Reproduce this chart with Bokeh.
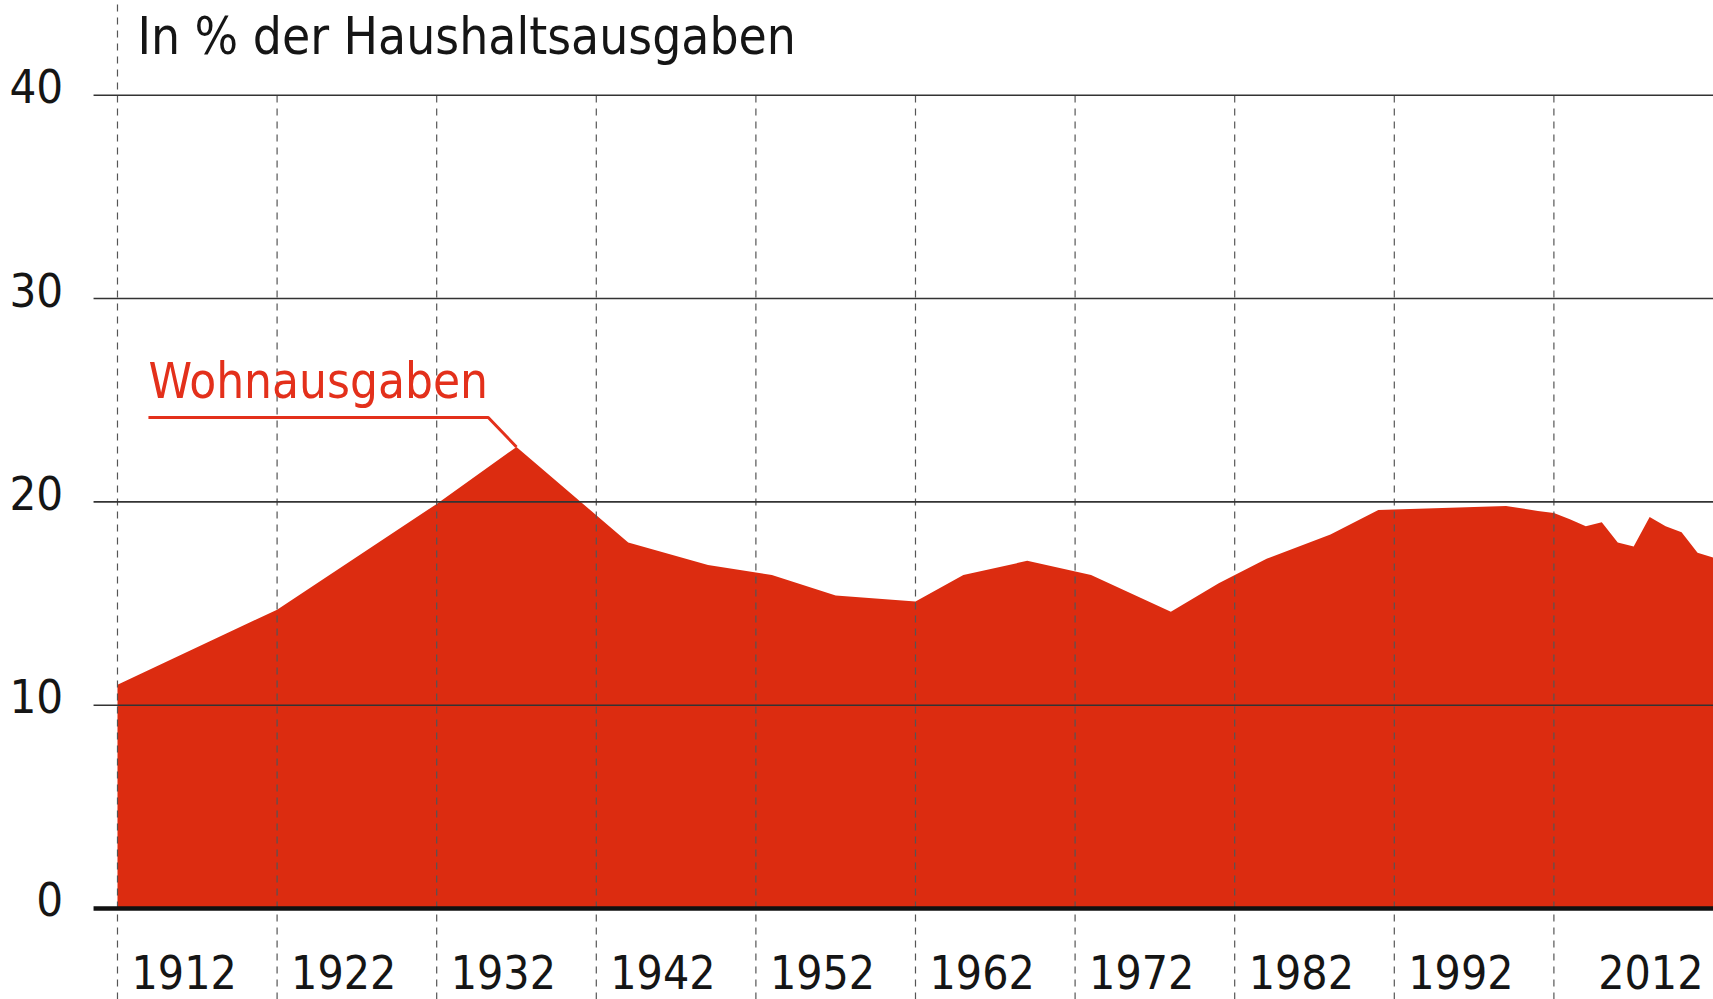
from bokeh.plotting import figure
from bokeh.models import Range1d
from bokeh.core.properties import value
from bokeh.embed import file_html
from bokeh.resources import INLINE

# ---- data ----
years = [1912, 1922, 1932, 1937, 1944, 1949, 1953, 1957, 1962, 1965, 1969, 1973,
         1978, 1981, 1984, 1988, 1991, 1999, 2001, 2002, 2003, 2004, 2005, 2006,
         2007, 2008, 2009, 2010, 2011, 2012]
wohnausgaben = [11.0, 14.7, 19.9, 22.7, 18.0, 16.9, 16.4, 15.4, 15.1, 16.4, 17.1, 16.4,
                14.6, 16.0, 17.2, 18.4, 19.6, 19.8, 19.55, 19.45, 19.15, 18.8, 19.0, 18.0,
                17.8, 19.25, 18.8, 18.5, 17.5, 17.25]

y_ticks = [0, 10, 20, 30, 40]
y_labels = ["0", "10", "20", "30", "40"]
decade_lines = [1912, 1922, 1932, 1942, 1952, 1962, 1972, 1982, 1992, 2002]
x_labels = ["1912", "1922", "1932", "1942", "1952", "1962", "1972", "1982", "1992", "2012"]
x_label_pos = [1912, 1922, 1932, 1942, 1952, 1962, 1972, 1982, 1992, 2003.9]

title_text = "In % der Haushaltsausgaben"
series_name = "Wohnausgaben"

RED_FILL = "#dc2c10"
RED_TEXT = "#e3301b"
FONT = value("'DejaVu Sans Condensed', sans-serif")

X0, X1 = 1904.67, 2012.0
Y0, Y1 = -4.476, 44.66

p = figure(width=1713, height=999, x_range=Range1d(X0, X1), y_range=Range1d(Y0, Y1),
           output_backend="svg", toolbar_location=None,
           x_axis_type=None, y_axis_type=None, min_border=0,
           outline_line_color=None, background_fill_color="white",
           border_fill_color="white")
p.grid.visible = False

# area
p.varea(x=years, y1=[0] * len(years), y2=wohnausgaben, fill_color=RED_FILL)

# vertical dashed lines
v_top = [Y1 if i == 0 else y_ticks[-1] for i in range(len(decade_lines))]
p.segment(x0=decade_lines, y0=[Y0] * len(decade_lines), x1=decade_lines, y1=v_top,
          line_color="#555555", line_width=1.2, line_dash="7 6")

# horizontal grid lines
grid_start = 1910.5
hy = y_ticks[1:]
p.segment(x0=[grid_start] * len(hy), y0=hy, x1=[X1] * len(hy), y1=hy,
          line_color="#333333", line_width=1.6)
# zero line
p.segment(x0=[grid_start], y0=[0], x1=[X1], y1=[0], line_color="#111111", line_width=4.5)

# y tick labels
p.text(x=[1908.6] * len(y_ticks), y=y_ticks, text=y_labels, text_align="right",
       text_baseline="alphabetic", y_offset=-9, text_font=FONT,
       text_font_size="47px", text_color="#151515")

# x tick labels
p.text(x=x_label_pos, y=[-4.23] * len(x_labels), text=x_labels, text_align="left",
       text_baseline="alphabetic", x_offset=14, y_offset=-22, text_font=FONT,
       text_font_size="46px", text_color="#151515")

# title
p.text(x=[1913.25], y=[42.06], text=[title_text], text_align="left",
       text_baseline="alphabetic", y_offset=-17, text_font=FONT,
       text_font_size="51px", text_color="#151515")

# series label with leader line to the peak
peak_i = wohnausgaben.index(max(wohnausgaben))
lab_x0, lab_x1, lab_y = 1913.94, 1935.23, 24.15
p.text(x=[lab_x0], y=[25.09], text=[series_name], text_align="left",
       text_baseline="alphabetic", y_offset=-17, text_font=FONT,
       text_font_size="49px", text_color=RED_TEXT)
p.line(x=[lab_x0, lab_x1, years[peak_i]], y=[lab_y, lab_y, wohnausgaben[peak_i]],
       line_color=RED_TEXT, line_width=3)

open("out.html", "w").write(file_html(p, INLINE))
